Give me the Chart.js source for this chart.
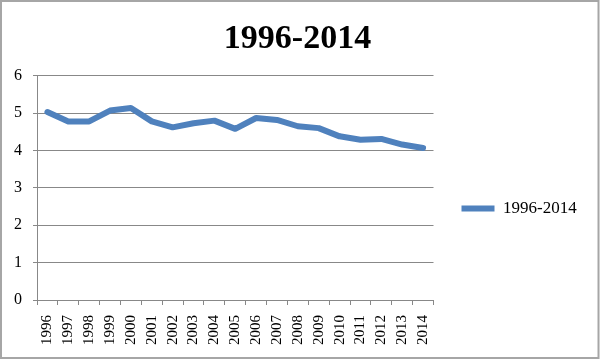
<!DOCTYPE html>
<html>
<head>
<meta charset="utf-8">
<script src="https://cdn.jsdelivr.net/npm/chart.js@4/dist/chart.umd.min.js"></script>
<style>
  html, body { margin: 0; padding: 0; background: #fff; }
  #wrap { width: 600px; height: 361px; }
</style>
</head>
<body>
<div id="wrap"><canvas id="myChart" width="600" height="361"></canvas></div>
<script>
const years = ["1996", "1997", "1998", "1999", "2000", "2001", "2002", "2003", "2004", "2005",
  "2006", "2007", "2008", "2009", "2010", "2011", "2012", "2013", "2014"];
const values = [5.03, 4.78, 4.78, 5.07, 5.14, 4.78, 4.62, 4.73, 4.80, 4.58,
  4.87, 4.82, 4.65, 4.60, 4.38, 4.29, 4.31, 4.16, 4.07];
const yTicks = [0, 1, 2, 3, 4, 5, 6];

const serif = "'Liberation Serif', 'DejaVu Serif', serif";

// white background + gray frame
const framePlugin = {
  id: 'frame',
  beforeDraw(chart) {
    const c = chart.ctx;
    c.save();
    c.fillStyle = '#fff';
    c.fillRect(0, 0, chart.width, chart.height);
    c.strokeStyle = '#a6a6a6';
    c.lineWidth = 2;
    c.strokeRect(1, 1, 597.5, 357);
    c.restore();
  }
};

const ctx = document.getElementById("myChart").getContext("2d");
window.lineChart = new Chart(ctx, {
  type: 'line',
  data: {
    labels: years,
    datasets: [
      {
        label: "1996-2014",
        data: values,
        borderColor: '#4f81bd',
        backgroundColor: '#4f81bd',
        borderWidth: 6,
        borderCapStyle: 'round',
        borderJoinStyle: 'round',
        pointRadius: 0,
        tension: 0,
      },
    ],
  },
  options: {
    responsive: false,
    animation: false,
    layout: { padding: { left: 0, right: 22, top: 0, bottom: 0 } },
    plugins: {
      title: {
        display: true,
        // leading spaces push the centred title back to the middle of the page
        text: '  1996-2014',
        color: '#000',
        font: { family: serif, size: 34, weight: 'bold', lineHeight: 1.2 },
        padding: { top: 19, bottom: 16 },
      },
      legend: {
        position: 'right',
        title: {
          display: true,
          text: ' ',
          font: { family: serif, size: 10 },
          padding: { top: 44, bottom: 0 },
        },
        labels: {
          usePointStyle: true,
          pointStyle: 'line',
          pointStyleWidth: 33,
          color: '#000',
          font: { family: serif, size: 17 },
          padding: 28,
        },
      },
      tooltip: { enabled: false },
    },
    scales: {
      x: {
        offset: true,
        grid: {
          offset: true,
          drawOnChartArea: false,
          drawTicks: true,
          tickLength: 5,
          color: '#888',
        },
        border: { color: '#888', width: 1 },
        ticks: {
          color: '#000',
          font: { family: serif, size: 15 },
          minRotation: 90,
          maxRotation: 90,
          autoSkip: false,
          padding: 10,
        },
        afterFit(scale) { scale.height = 61; },
      },
      y: {
        min: 0,
        max: 6,
        afterBuildTicks(scale) { scale.ticks = yTicks.map(v => ({ value: v })); },
        grid: { color: '#888', tickLength: 4 },
        border: { color: '#888', width: 1 },
        ticks: {
          color: '#000',
          font: { family: serif, size: 16 },
          padding: 11,
        },
        afterFit(scale) { scale.width = 37; },
      },
    },
  },
  plugins: [framePlugin],
});
</script>
</body>
</html>
